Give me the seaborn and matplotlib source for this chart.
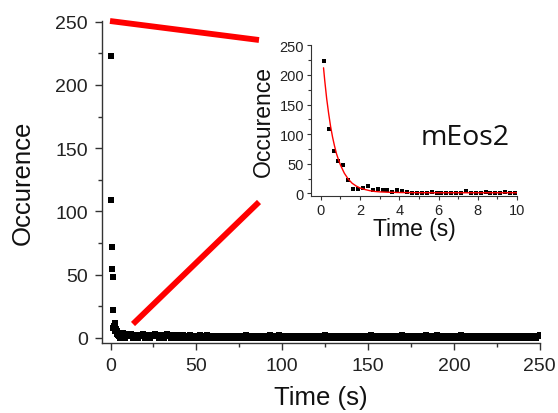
import numpy as np
import pandas as pd
import matplotlib
matplotlib.use("Agg")
import matplotlib.pyplot as plt
from matplotlib.lines import Line2D
from matplotlib.ticker import MultipleLocator
import seaborn as sns

# inset: 0.25 s bins, first 10 s
inset_time = np.arange(0.15, 10.0, 0.25)
inset_count = [223, 109, 72, 54, 48, 22, 8, 8, 9, 12,
               5, 7, 5, 5, 3, 5, 4, 2, 1, 1,
               1, 0, 2, 0, 0, 1, 1, 1, 1, 4,
               1, 1, 1, 3, 0, 1, 1, 2, 1, 1]

# exponential fit (red curve)
fit_time = [0.14, 0.2, 0.3, 0.4, 0.5, 0.6, 0.7, 0.8, 0.9, 1.0, 1.2, 1.4, 1.6,
            1.8, 2.0, 2.25, 2.5, 2.75, 3.0, 3.5, 4.0, 5.0, 6.0, 8.0, 10.0]
fit_count = [212, 191, 160, 135, 113, 95, 80, 67, 57, 48, 34, 24, 17,
             12.5, 9, 6.5, 4.5, 3.2, 2.5, 1.8, 1.4, 1.1, 1.0, 1.0, 1.0]

# long tail of main plot, 1 s steps from 10 s to 250 s
tail_time = np.arange(10, 251)
tail_count = [2, 1, 3, 0, 2, 1, 0, 2, 1, 3, 0, 1, 2, 0, 1, 2, 3, 1, 0, 2,
              1, 0, 2, 3, 1, 0, 2, 1, 0, 2, 1, 0, 2, 1, 0, 1, 2, 0, 1, 0,
              1, 0, 2, 1, 0, 1, 2, 0, 1, 0, 1, 0, 1, 0, 0, 1, 0, 1, 0, 0,
              1, 0, 0, 1, 0, 1, 0, 0, 1, 2, 0, 1, 0, 0, 1, 0, 0, 1, 0, 0,
              1, 0, 0, 2, 0, 1, 0, 0, 2, 1, 0, 0, 1, 0, 0, 1, 0, 0, 1, 0,
              0, 1, 0, 0, 1, 0, 0, 1, 0, 0, 1, 0, 0, 1, 0, 2, 0, 0, 1, 0,
              0, 1, 0, 0, 1, 0, 0, 1, 0, 0, 1, 0, 0, 1, 0, 0, 1, 0, 0, 1,
              0, 0, 2, 0, 1, 0, 0, 1, 0, 0, 1, 0, 0, 1, 0, 0, 1, 0, 0, 1,
              2, 0, 0, 1, 0, 0, 1, 0, 0, 1, 0, 0, 1, 0, 2, 0, 1, 0, 0, 1,
              2, 0, 0, 1, 0, 0, 1, 0, 0, 1, 0, 0, 1, 0, 2, 0, 0, 1, 0, 0,
              1, 0, 0, 1, 0, 0, 1, 0, 0, 1, 0, 0, 1, 0, 0, 1, 0, 0, 1, 0,
              0, 1, 0, 0, 1, 0, 0, 1, 0, 0, 1, 0, 0, 1, 0, 0, 1, 0, 0, 1,
              2]

mainDF = pd.DataFrame({
    'time': np.concatenate([inset_time, tail_time]),
    'count': inset_count + tail_count,
})
insetDF = pd.DataFrame({'time': inset_time, 'count': inset_count})
fitDF = pd.DataFrame({'time': fit_time, 'count': fit_count})

sns.set_style("ticks")
plt.rcParams['font.family'] = ['Liberation Sans', 'DejaVu Sans']
plt.rcParams['axes.linewidth'] = 1.0
plt.rcParams['axes.edgecolor'] = '#333333'
plt.rcParams['text.color'] = '#111111'
plt.rcParams['axes.labelcolor'] = '#111111'
plt.rcParams['xtick.labelcolor'] = '#222222'
plt.rcParams['ytick.labelcolor'] = '#222222'

fig = plt.figure(figsize=(5.58, 4.14), dpi=100)

# main axes
ax = fig.add_axes([0.1828, 0.1684, 0.7858, 0.7796])
sns.scatterplot(data=mainDF, x='time', y='count', marker='s', s=22,
                color='black', linewidth=0, ax=ax, legend=False)
ax.set_xlim(-5, 250.5)
ax.set_ylim(-4.4, 251)
ax.xaxis.set_major_locator(MultipleLocator(50))
ax.xaxis.set_minor_locator(MultipleLocator(25))
ax.yaxis.set_major_locator(MultipleLocator(50))
ax.yaxis.set_minor_locator(MultipleLocator(25))
ax.tick_params(which='major', direction='out', length=5, width=1,
               labelsize=14, pad=5, color='#333333')
ax.tick_params(which='minor', direction='out', length=3, width=1,
               color='#333333')
ax.set_xlabel('Time (s)', fontsize=18.5, labelpad=8)
ax.set_ylabel('Occurence', fontsize=18.5, labelpad=15)
sns.despine(ax=ax)

# inset axes
axin = fig.add_axes([0.5573, 0.5234, 0.3692, 0.3662])
sns.scatterplot(data=insetDF, x='time', y='count', marker='s', s=6,
                color='black', linewidth=0, ax=axin, legend=False)
sns.lineplot(data=fitDF, x='time', y='count', color='red', linewidth=1.0,
             ax=axin, legend=False)
axin.set_xlim(-0.5, 10)
axin.set_ylim(-5, 251)
axin.xaxis.set_major_locator(MultipleLocator(2))
axin.xaxis.set_minor_locator(MultipleLocator(1))
axin.yaxis.set_major_locator(MultipleLocator(50))
axin.yaxis.set_minor_locator(MultipleLocator(25))
axin.tick_params(which='major', direction='out', length=3, width=0.8,
                 labelsize=10.5, pad=2, color='#333333')
axin.tick_params(which='minor', direction='out', length=2, width=0.8,
                 color='#333333')
for sp in axin.spines.values():
    sp.set_linewidth(0.8)
axin.set_xlabel('Time (s)', fontsize=16.5, labelpad=0)
axin.set_ylabel('Occurence', fontsize=16.5, labelpad=3)
sns.despine(ax=axin)
axin.text(0.53, 0.39, 'mEos2', transform=axin.transAxes, fontsize=20.5,
          family=['Open Sans', 'DejaVu Sans'], ha='left', va='center')

# red zoom connector lines
W, H = 558.0, 414.0
for (x0, y0), (x1, y1) in [((110, 22), (259, 41)), ((133, 325), (259, 203))]:
    fig.add_artist(Line2D([x0 / W, x1 / W], [1 - y0 / H, 1 - y1 / H],
                          transform=fig.transFigure, color='#ff0000',
                          linewidth=4.2, solid_capstyle='butt'))

fig.savefig('out.png', dpi=100)
